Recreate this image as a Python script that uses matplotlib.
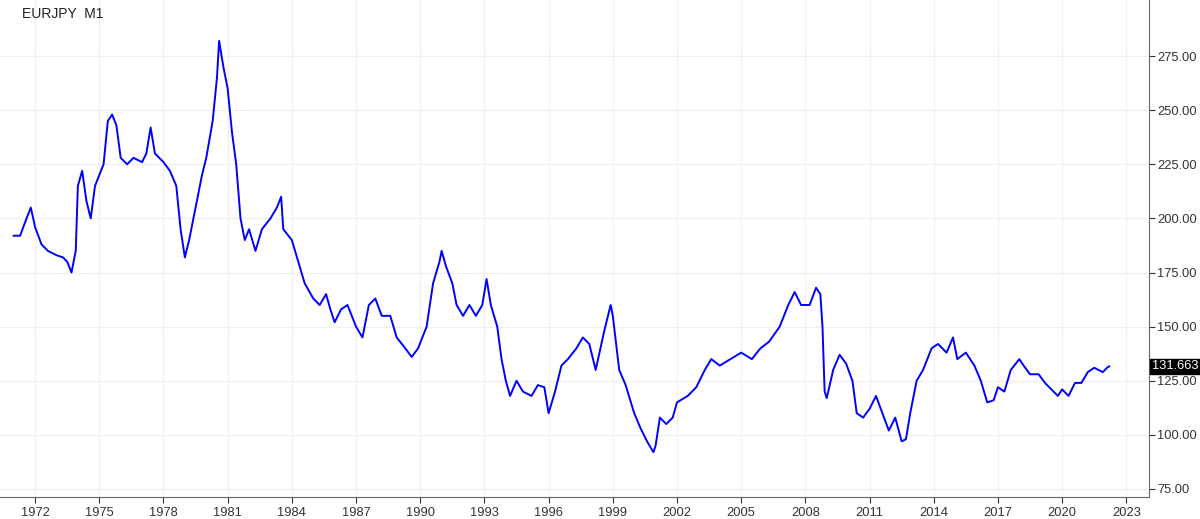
import matplotlib
matplotlib.use("Agg")
import matplotlib.pyplot as plt

plt.rcParams['font.family'] = ['Liberation Sans', 'DejaVu Sans']

years = [1971.0,1971.3,1971.6,1971.8,1972.0,1972.3,1972.6,1973.0,1973.3,1973.5,1973.7,1973.9,1974.0,1974.2,1974.4,1974.6,1974.8,1975.0,1975.2,1975.4,1975.6,1975.8,1976.0,1976.3,1976.6,1977.0,1977.2,1977.4,1977.6,1978.0,1978.3,1978.6,1978.8,1979.0,1979.2,1979.5,1979.8,1980.0,1980.3,1980.5,1980.6,1980.8,1981.0,1981.2,1981.4,1981.6,1981.8,1982.0,1982.3,1982.6,1983.0,1983.3,1983.5,1983.6,1984.0,1984.3,1984.6,1985.0,1985.3,1985.6,1985.8,1986.0,1986.3,1986.6,1987.0,1987.3,1987.6,1987.9,1988.2,1988.6,1988.9,1989.3,1989.6,1989.9,1990.3,1990.6,1990.9,1991.0,1991.2,1991.5,1991.7,1992.0,1992.3,1992.6,1992.9,1993.1,1993.3,1993.6,1993.8,1994.0,1994.2,1994.5,1994.8,1995.2,1995.5,1995.8,1996.0,1996.3,1996.6,1996.9,1997.3,1997.6,1997.9,1998.2,1998.6,1998.9,1999.0,1999.3,1999.6,2000.0,2000.3,2000.6,2000.9,2001.0,2001.2,2001.5,2001.8,2002.0,2002.5,2002.9,2003.3,2003.6,2004.0,2004.5,2005.0,2005.5,2005.9,2006.3,2006.8,2007.2,2007.5,2007.8,2008.2,2008.5,2008.7,2008.8,2008.9,2009.0,2009.3,2009.6,2009.9,2010.2,2010.4,2010.7,2011.0,2011.3,2011.6,2011.9,2012.2,2012.5,2012.7,2012.9,2013.2,2013.5,2013.9,2014.2,2014.6,2014.9,2015.1,2015.5,2015.9,2016.2,2016.5,2016.8,2017.0,2017.3,2017.6,2018.0,2018.2,2018.5,2018.9,2019.2,2019.5,2019.8,2020.0,2020.3,2020.6,2020.9,2021.2,2021.5,2021.9,2022.1,2022.2]
prices = [192,192,200,205,196,188,185,183,182,180,175,185,215,222,208,200,215,220,225,245,248,243,228,225,228,226,230,242,230,226,222,215,195,182,190,205,220,228,245,265,282,270,260,240,225,200,190,195,185,195,200,205,210,195,190,180,170,163,160,165,158,152,158,160,150,145,160,163,155,155,145,140,136,140,150,170,180,185,178,170,160,155,160,155,160,172,160,150,135,125,118,125,120,118,123,122,110,120,132,135,140,145,142,130,148,160,155,130,123,110,103,97,92,95,108,105,108,115,118,122,130,135,132,135,138,135,140,143,150,160,166,160,160,168,165,150,120,117,130,137,133,125,110,108,112,118,110,102,108,97,98,110,125,130,140,142,138,145,135,138,132,125,115,116,122,120,130,135,132,128,128,124,121,118,121,118,124,124,129,131,129,131,131.663]
xticks = [1972,1975,1978,1981,1984,1987,1990,1993,1996,1999,2002,2005,2008,2011,2014,2017,2020,2023]
yticks = [75,100,125,150,175,200,225,250,275]
last = 131.663

fig = plt.figure(figsize=(12, 5.19), dpi=100)
ax = fig.add_axes([0.0, 0.0424, 0.9575, 0.9576])
ax.plot(years, prices, color='#0000ff', lw=1.4)
ax.set_xlim(1970.36, 2024.06)
ax.set_ylim(71.3, 300.9)
ax.set_xticks(xticks)
ax.set_xticklabels([str(t) for t in xticks])
ax.set_yticks(yticks)
ax.set_yticklabels([f"{t:.2f}" for t in yticks])
ax.yaxis.tick_right()
ax.grid(True, color='#f0f0f0', lw=1)
ax.set_axisbelow(True)
for s in ['top', 'left']:
    ax.spines[s].set_visible(False)
for s in ['right', 'bottom']:
    ax.spines[s].set_color('#666666')
ax.tick_params(labelsize=9.3, colors='#333333', length=4)
ax.tick_params(axis='y', pad=2)
ax.text(0.019, 0.985, "EURJPY  M1", transform=ax.transAxes, fontsize=10, va='top', color='#222222')
ax.annotate(f"{last:.3f}", xy=(1.0, last), xycoords=('axes fraction', 'data'),
            xytext=(2, 0), textcoords='offset points', va='center', ha='left',
            fontsize=9.3, color='white', annotation_clip=False,
            bbox=dict(boxstyle='square,pad=0.12', fc='black', ec='black'))
fig.savefig("out.png", dpi=100)
